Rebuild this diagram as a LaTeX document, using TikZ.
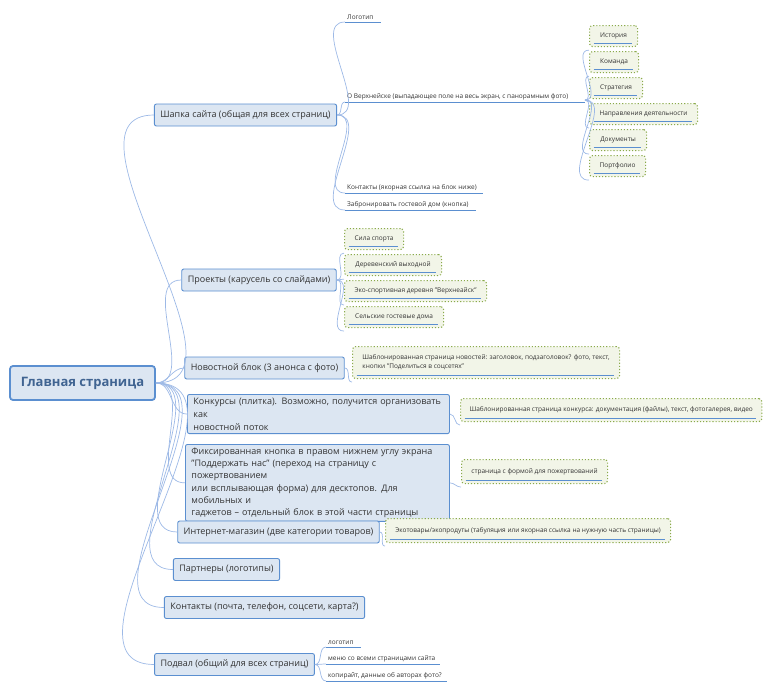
\documentclass[tikz,border=0pt]{standalone}
\usepackage{fontspec}
\setmainfont{Open Sans}
\definecolor{lfill}{HTML}{DCE6F2}
\definecolor{lline}{HTML}{5B8FD0}
\definecolor{gfill}{HTML}{F2F5E8}
\definecolor{gline}{HTML}{8AAA4A}
\definecolor{cline}{HTML}{9DB9E6}
\definecolor{uline}{HTML}{5B8FD0}
\definecolor{txt}{HTML}{333333}
\begin{document}
\begin{tikzpicture}[x=1pt,y=-1pt,
  root/.style={draw=lline,line width=1.8pt,fill=lfill,rounded corners=3pt,font=\fontsize{13}{15}\selectfont\bfseries,text=lline!70!black,minimum width=145pt,minimum height=34pt},
  l1/.style={draw=lline,line width=0.9pt,fill=lfill,rounded corners=2pt,font=\fontsize{9}{13}\selectfont,text=txt,minimum height=22pt,inner xsep=6pt},
  lm/.style={l1,align=left,anchor=north west},
  g/.style={draw=gline,line width=1.1pt,dotted,fill=gfill,rounded corners=3pt,font=\fontsize{6.5}{9}\selectfont,text=txt,minimum height=21pt,inner xsep=9pt,anchor=north west,align=left,
    path picture={\draw[solid,uline,line width=1pt] ([xshift=4pt,yshift=3pt]path picture bounding box.south west)--([xshift=-6pt,yshift=3pt]path picture bounding box.south east);}},
  p/.style={font=\fontsize{6.5}{8}\selectfont,text=txt,inner xsep=2pt,inner ysep=2pt,anchor=south west},
  ul/.style={uline,line width=1pt},
  c/.style={cline,line width=0.7pt}]
\useasboundingbox (0,0) rectangle (769,689);
% root
\node[root] (r) at (82.5,383) {Главная страница};
% level 1
\node[l1,minimum width=175pt] (h) at (245.5,115) {Шапка сайта (общая для всех страниц)};
\node[l1,minimum width=150pt] (pr) at (259,280) {Проекты (карусель со слайдами)};
\node[l1,minimum width=153pt] (nw) at (264.5,368) {Новостной блок (3 анонса с фото)};
\node[lm,text width=250pt,minimum height=33pt] (kn) at (187,394) {Конкурсы (плитка). Возможно, получится организовать как\\ новостной поток};
\node[lm,text width=252pt,minimum height=58pt,font=\fontsize{9}{12.3}\selectfont] (fx) at (185,444) {Фиксированная кнопка в правом нижнем углу экрана\\ "Поддержать нас" (переход на страницу с пожертвованием\\ или всплывающая форма) для десктопов. Для мобильных и\\ гаджетов – отдельный блок в этой части страницы};
\node[l1,minimum width=195pt] (sh) at (278.5,532) {Интернет-магазин (две категории товаров)};
\node[l1,minimum width=103pt] (pa) at (226.5,569.5) {Партнеры (логотипы)};
\node[l1,minimum width=193pt] (ct) at (264.5,607.5) {Контакты (почта, телефон, соцсети, карта?)};
\node[l1,minimum width=155pt] (ft) at (234.5,664.5) {Подвал (общий для всех страниц)};
\foreach \n in {h,pr,nw,kn,fx,sh,pa,ct,ft}
  \draw[c] (r.east) to[out=0,in=180] (\n.west);
% header children
\node[p] (h1) at (345,22) {Логотип};
\node[p] (h2) at (345,102) {О Верхнейске (выпадающее поле на весь экран, с панорамным фото)};
\node[p] (h3) at (345,193) {Контакты (якорная ссылка на блок ниже)};
\node[p] (h4) at (345,210) {Забронировать гостевой дом (кнопка)};
\draw[ul] (h1.south west)--(381,22);
\draw[ul] (h2.south west)--(585,102);
\draw[ul] (h3.south west)--(483,193);
\draw[ul] (h4.south west)--(476,210);
\foreach \n in {h1,h2,h3,h4}
  \draw[c] (h.east) to[out=0,in=180] (\n.south west);
% about children
\node[g,minimum width=48pt] (a1) at (589,25) {История};
\node[g,minimum width=49pt] (a2) at (589,51) {Команда};
\node[g,minimum width=53pt] (a3) at (589,77) {Стратегия};
\node[g,minimum width=108pt] (a4) at (589,103) {Направления деятельности};
\node[g,minimum width=57pt] (a5) at (589,129) {Документы};
\node[g,minimum width=56pt] (a6) at (589,155) {Портфолио};
\foreach \n in {a1,a2,a3,a4,a5,a6}
  \draw[c] (585,100) to[out=0,in=180] ([yshift=-3pt]\n.south west);
% projects children
\node[g,minimum width=59pt] (p1) at (344,228) {Сила спорта};
\node[g,minimum width=97pt] (p2) at (344,254) {Деревенский выходной};
\node[g,minimum width=142pt] (p3) at (344,280) {Эко-спортивная деревня "Верхнеайск"};
\node[g,minimum width=99pt] (p4) at (344,306) {Сельские гостевые дома};
\foreach \n in {p1,p2,p3,p4}
  \draw[c] (pr.east) to[out=0,in=180] ([yshift=-3pt]\n.south west);
% others
\node[g,minimum width=267pt,minimum height=32pt] (n1) at (352,346) {Шаблонированная страница новостей: заголовок, подзаголовок? фото, текст,\\ кнопки "Поделиться в соцсетях"};
\draw[c] (nw.east) to[out=0,in=180] ([yshift=-3pt]n1.south west);
\node[g,minimum width=300pt,minimum height=23pt] (k1) at (460,398) {Шаблонированная страница конкурса: документация (файлы), текст, фотогалерея, видео};
\draw[c] (kn.east) to[out=0,in=180] ([yshift=-3pt]k1.south west);
\node[g,minimum width=146pt,minimum height=24pt] (f1) at (461,459) {страница с формой для пожертвований};
\draw[c] (fx.east) to[out=0,in=180] ([yshift=-3pt]f1.south west);
\node[g,minimum width=285pt,minimum height=24pt] (s1) at (385,518) {Экотовары/экопродуты (табуляция или якорная ссылка на нужную часть страницы)};
\draw[c] (sh.east) to[out=0,in=180] ([yshift=-3pt]s1.south west);
% footer children
\node[p] (f1a) at (326,647) {логотип};
\node[p] (f2a) at (326,664) {меню со всеми страницами сайта};
\node[p] (f3a) at (326,681) {копирайт, данные об авторах фото?};
\draw[ul] (f1a.south west)--(361,647);
\draw[ul] (f2a.south west)--(440,664);
\draw[ul] (f3a.south west)--(447,681);
\foreach \n in {f1a,f2a,f3a}
  \draw[c] (ft.east) to[out=0,in=180] (\n.south west);
\end{tikzpicture}
\end{document}
